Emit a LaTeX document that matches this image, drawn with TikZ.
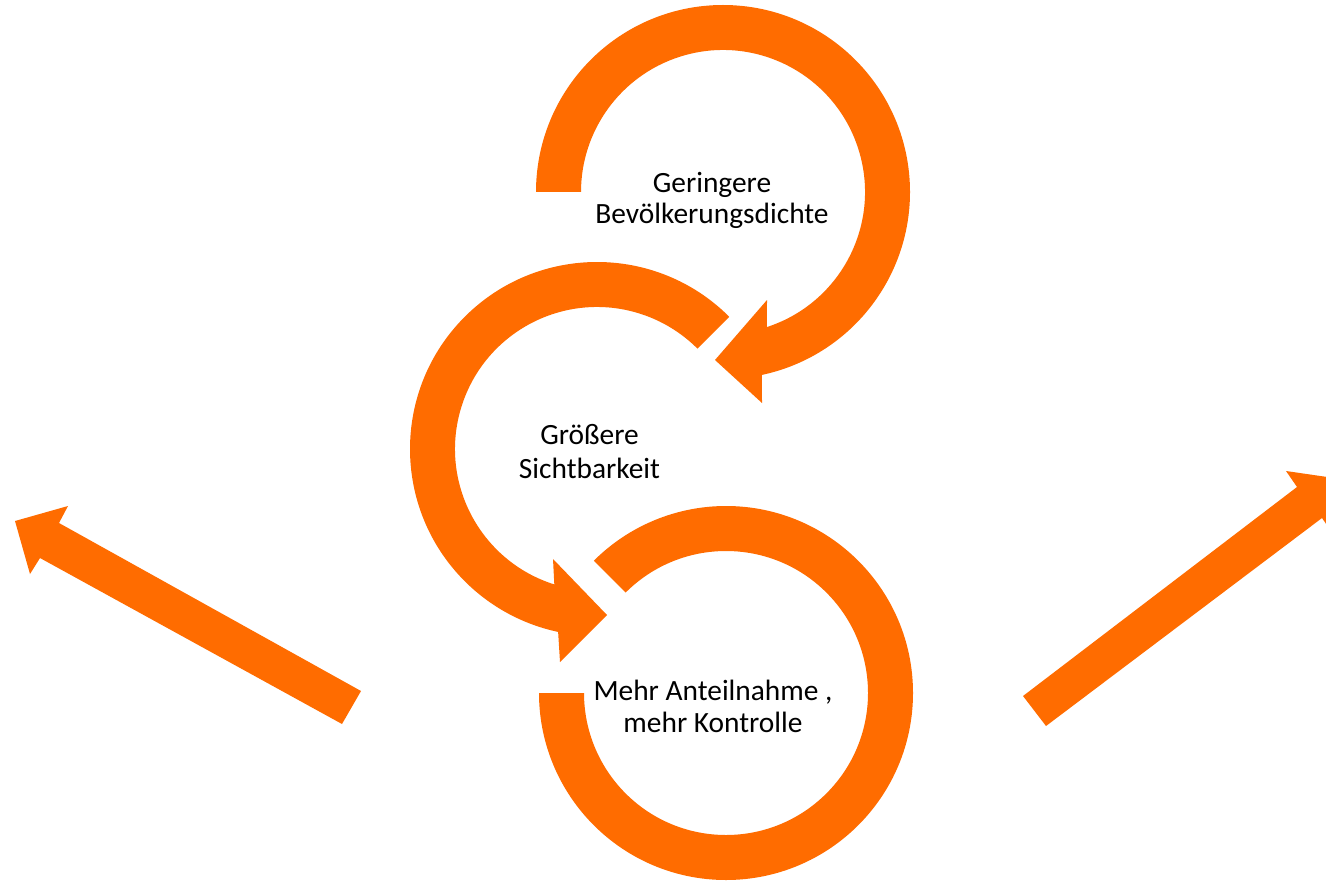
\documentclass[tikz,border=0pt]{standalone}
\usepackage{fontspec}
\setmainfont{Carlito}
\definecolor{arroworange}{RGB}{255,108,0}
\tikzset{
  band/.style={fill=arroworange, draw=none},
  lbl/.style={anchor=base, align=center, inner sep=0pt, font=\fontsize{14.7}{15}\selectfont, text=black}
}
\begin{document}
\begin{tikzpicture}[x=0.5pt,y=0.5pt]
\useasboundingbox (0,0) rectangle (1326,880);
\clip (0,0) rectangle (1326,880);
\fill[white] (0,0) rectangle (1326,880);
% centres
\coordinate (ct) at (723,688);
\coordinate (cm) at (597,431);
\coordinate (cb) at (726,187);
% top circular arrow
\fill[band] ([shift={(180:187)}]ct) arc[start angle=180, end angle=-78, radius=187]
  -- (762,477) -- (715,520) -- (767,580)
  -- ([shift={(-72:142)}]ct) arc[start angle=-72, end angle=180, radius=142] -- cycle;
% middle circular arrow
\fill[band] ([shift={(45:187)}]cm) arc[start angle=45, end angle=258, radius=187]
  -- (560,218) -- (607,265) -- (553,321)
  -- ([shift={(252.5:142)}]cm) arc[start angle=252.5, end angle=45, radius=142] -- cycle;
% bottom circular band
\fill[band] ([shift={(180:187)}]cb) arc[start angle=180, end angle=495, radius=187]
  -- ([shift={(135:142)}]cb) arc[start angle=135, end angle=-180, radius=142] -- cycle;
% left straight arrow
\fill[band] (361,189) -- (59,357) -- (68,374) -- (15,359) -- (30,306) -- (40,322) -- (342,156) -- cycle;
% right straight arrow
\fill[band] (1023,184) -- (1297,393) -- (1286,409) -- (1341,401) -- (1333,346) -- (1322,362) -- (1046,154) -- cycle;
% labels (anchor = baseline of last line)
\node[lbl, font=\fontsize{14.7}{15}\selectfont] (t1) at (712,657) {Geringere\\Bevölkerungsdichte};
\node[lbl, font=\fontsize{14.7}{17}\selectfont] (t2) at (589.5,402) {Größere\\Sichtbarkeit};
\node[lbl, font=\fontsize{14.7}{16}\selectfont] (t3) at (713,148) {Mehr Anteilnahme ,\\mehr Kontrolle};
\end{tikzpicture}
\end{document}
